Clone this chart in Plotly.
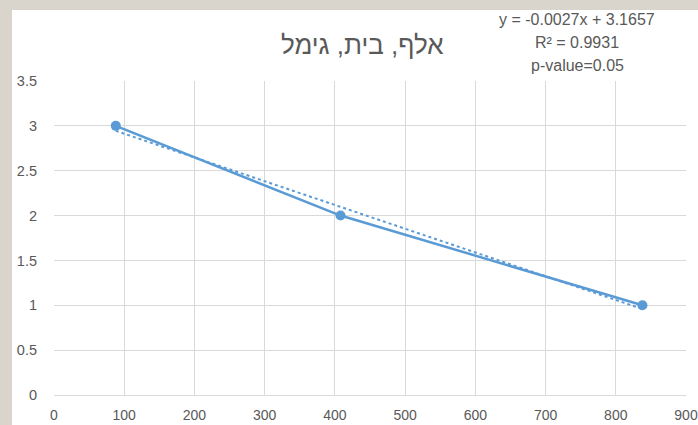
import numpy as np
import plotly.graph_objects as go

x_vals = [88, 408, 838]
y_vals = [3, 2, 1]
title_text = "אלף, בית, גימל"
eq_lines = ["y = -0.0027x + 3.1657", "R² = 0.9931", "p-value=0.05"]
x_ticks = [0, 100, 200, 300, 400, 500, 600, 700, 800, 900]
y_ticks = [0, 0.5, 1, 1.5, 2, 2.5, 3, 3.5]

W, H = 698, 425
L, R, T, B = 54, 12, 81, 30
pw, ph = W - L - R, H - T - B

def px_x(p):  # window pixel -> paper coordinate
    return (p - L) / pw

def px_y(p):
    return (H - B - p) / ph

color = "#5B9BD5"
grey = "#595959"
font_fam = "Liberation Sans, DejaVu Sans, Arial, sans-serif"

slope, intercept = np.polyfit(x_vals, y_vals, 1)
tx = [min(x_vals), max(x_vals)]
ty = [slope * v + intercept for v in tx]

fig = go.Figure()
fig.add_trace(go.Scatter(x=x_vals, y=y_vals, mode="lines+markers",
                         line=dict(color=color, width=2.5),
                         marker=dict(color=color, size=10), showlegend=False))
fig.add_trace(go.Scatter(x=tx, y=ty, mode="lines",
                         line=dict(color=color, width=2, dash="dot"), showlegend=False))

fig.update_layout(
    width=W, height=H,
    margin=dict(l=L, r=R, t=T, b=B, autoexpand=False),
    paper_bgcolor="#d9d4cc",
    plot_bgcolor="white",
    font=dict(family=font_fam, color=grey, size=14),
    xaxis=dict(range=[0, 900], tickvals=x_ticks, showgrid=True, gridcolor="#d9d9d9",
               gridwidth=1, zeroline=False, showline=True, linecolor="#d9d9d9",
               ticks="", ticklabelstandoff=7, automargin=False,
               tickfont=dict(size=14, color=grey)),
    yaxis=dict(range=[0, 3.5], tickvals=y_ticks, showgrid=True, gridcolor="#d9d9d9",
               gridwidth=1, zeroline=False, showline=False, automargin=False,
               ticks="", ticklabelstandoff=16, tickfont=dict(size=14.5, color=grey)),
    shapes=[dict(type="rect", xref="paper", yref="paper", layer="below",
                 x0=px_x(12), x1=px_x(W + 5), y0=px_y(H + 5), y1=px_y(10),
                 fillcolor="white", line=dict(width=0))],
    annotations=[
        dict(text=title_text, xref="paper", yref="paper", x=px_x(362), y=px_y(45),
             xanchor="center", yanchor="middle", showarrow=False,
             font=dict(size=26, color=grey, family=font_fam)),
    ] + [
        dict(text=t, xref="paper", yref="paper", x=px_x(577), y=px_y(20 + 22.5 * i),
             xanchor="center", yanchor="middle", showarrow=False,
             font=dict(size=16, color=grey, family=font_fam))
        for i, t in enumerate(eq_lines)
    ],
)

fig.write_html("out.html", config={"displayModeBar": False},
               post_script="document.body.style.margin='0';")
